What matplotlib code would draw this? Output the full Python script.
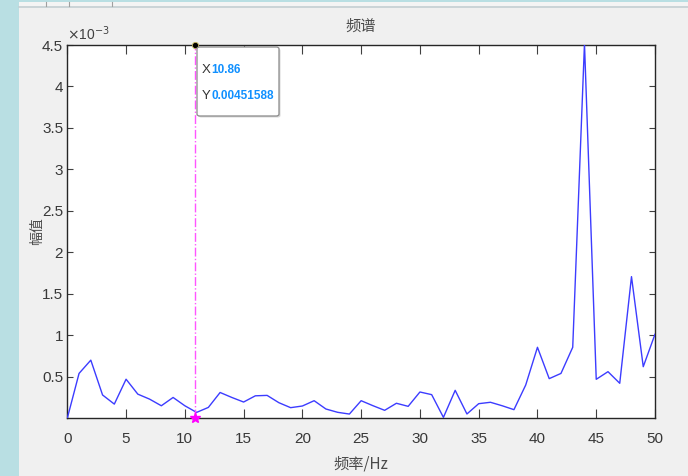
import numpy as np
import matplotlib
matplotlib.use("Agg")
import matplotlib.pyplot as plt
from matplotlib.patches import Rectangle, FancyBboxPatch
from matplotlib.lines import Line2D

# ---- data (amplitude in units of 1e-3) ----
freq = list(range(0, 51))
amp = [0.00, 0.54, 0.70, 0.28, 0.17, 0.47, 0.29, 0.23, 0.15, 0.25,
       0.15, 0.07, 0.13, 0.31, 0.25, 0.195, 0.27, 0.275, 0.187, 0.127,
       0.147, 0.211, 0.111, 0.071, 0.05, 0.211, 0.151, 0.095, 0.18, 0.143,
       0.316, 0.284, 0.01, 0.336, 0.051, 0.175, 0.192, 0.15, 0.103, 0.40,
       0.855, 0.477, 0.54, 0.855, 4.51588, 0.469, 0.561, 0.421, 1.707, 0.621,
       1.012]
marker_x = 10.86
peak_val = max(amp)
xticks = [0, 5, 10, 15, 20, 25, 30, 35, 40, 45, 50]
yticks = [0.5, 1, 1.5, 2, 2.5, 3, 3.5, 4, 4.5]
title = "频谱"
xlabel = "频率/Hz"
ylabel = "幅值"

CJK = ["Noto Sans CJK SC", "DejaVu Sans"]
NUM = ["Liberation Sans", "DejaVu Sans"]
plt.rcParams['font.family'] = NUM

W, H = 688, 476
fig = plt.figure(figsize=(W / 100, H / 100), dpi=100)
fig.patch.set_facecolor('#f0f0f0')

# window chrome
fig.add_artist(Rectangle((0, 0), 19 / W, 1, transform=fig.transFigure,
                         facecolor='#b9dfe3', edgecolor='none', zorder=0))
fig.add_artist(Rectangle((19 / W, 1 - 6 / H), 1, 6 / H, transform=fig.transFigure,
                         facecolor='#f4f4f4', edgecolor='none', zorder=0))
fig.add_artist(Rectangle((19 / W, 1 - 1.5 / H), 1, 1.5 / H, transform=fig.transFigure,
                         facecolor='#b9dfe3', edgecolor='none', zorder=0))
fig.add_artist(Line2D([19 / W, 1], [1 - 7 / H, 1 - 7 / H], transform=fig.transFigure,
                      color='#c4cfd2', lw=1.2))
for xx in (46, 69, 112):
    fig.add_artist(Line2D([xx / W, xx / W], [1 - 6 / H, 1 - 1.5 / H],
                          transform=fig.transFigure, color='#a0a0a0', lw=0.8))

left, right = 67.3 / W, 655 / W
bottom, top = 1 - 418.2 / H, 1 - 45 / H
ax = fig.add_axes([left, bottom, right - left, top - bottom])
ax.set_facecolor('white')

ax.plot(freq, amp, color='#3c3cff', lw=1.0, zorder=3)
ax.plot([marker_x, marker_x], [0, peak_val], color='#ff55ff', lw=1.0,
        linestyle='-.', zorder=4, clip_on=False)
ax.plot([marker_x], [0], marker='*', color='#ff00ff', markersize=8,
        zorder=5, clip_on=False)
ax.plot([marker_x], [4.5], marker='o', color='black', markersize=4.5,
        markeredgecolor='#c8b860', markeredgewidth=0.6, zorder=6, clip_on=False)

ax.set_xlim(0, 50)
ax.set_ylim(0, 4.5)
ax.set_xticks(xticks)
ax.set_yticks(yticks)
ax.set_xticklabels([f"{v:g}" for v in xticks])
ax.set_yticklabels([f"{v:g}" for v in yticks])

for s in ax.spines.values():
    s.set_color('#262626')
    s.set_linewidth(1.0)

ax.tick_params(axis='x', direction='in', length=6.5, width=0.8, color='#404040',
               top=True, labelsize=11, labelcolor='#383838', pad=10)
ax.tick_params(axis='y', direction='in', length=4.5, width=0.8, color='#404040',
               right=True, labelsize=11, labelcolor='#383838', pad=3)

ax.text(0.0, 1.005, r"$\times$10$^{-3}$", transform=ax.transAxes, fontsize=10,
        color='#404040', ha='left', va='bottom')

ax.set_title(title, family=CJK, fontsize=11, color='#4a4a4a', pad=10)
ax.set_xlabel(xlabel, family=CJK, fontsize=11, color='#4a4a4a', labelpad=7)
ax.set_ylabel(ylabel, family=CJK, fontsize=10, color='#4a4a4a')
ax.yaxis.set_label_coords((44 - 67.3) / (655 - 67.3), 0.5)

# data tip box
bx0, bx1 = 197 / W, 279 / W
by0, by1 = 1 - 116 / H, 1 - 47 / H
fig.add_artist(FancyBboxPatch((bx0 + 1.5 / W, by0 - 1.5 / H), bx1 - bx0, by1 - by0,
                              boxstyle="round,pad=0,rounding_size=0.004",
                              transform=fig.transFigure, facecolor='#d8d8d8',
                              edgecolor='none', zorder=7))
fig.add_artist(FancyBboxPatch((bx0, by0), bx1 - bx0, by1 - by0,
                              boxstyle="round,pad=0,rounding_size=0.004",
                              transform=fig.transFigure, facecolor='white',
                              edgecolor='#8a8a8a', lw=0.9, zorder=8))
tip_blue = '#1090ff'
fig.text(202 / W, 1 - 70 / H, "X", fontsize=9.5, color='#333333',
         va='center', ha='left', zorder=9)
fig.text(211 / W, 1 - 70 / H, f"{marker_x:g}", fontsize=8.5, color=tip_blue,
         fontweight='bold', va='center', ha='left', zorder=9)
fig.text(202 / W, 1 - 96 / H, "Y", fontsize=9.5, color='#333333',
         va='center', ha='left', zorder=9)
fig.text(211 / W, 1 - 96 / H, f"{peak_val * 1e-3:.8f}", fontsize=8.5,
         color=tip_blue, fontweight='bold', va='center', ha='left', zorder=9)

fig.savefig("out.png", dpi=100, facecolor=fig.get_facecolor())
